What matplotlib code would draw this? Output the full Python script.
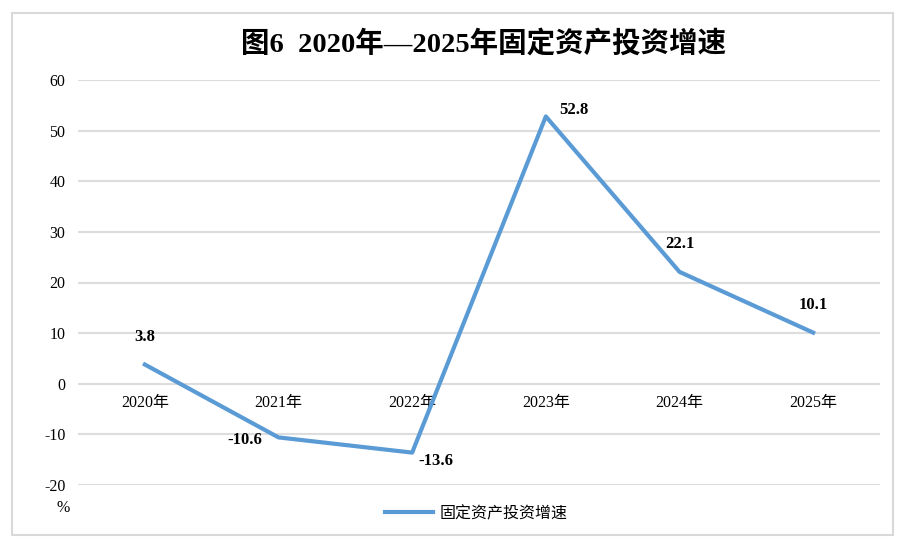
import matplotlib
matplotlib.use("Agg")
import matplotlib.pyplot as plt
from matplotlib.patches import Rectangle
from matplotlib.lines import Line2D

years = ["2020年", "2021年", "2022年", "2023年", "2024年", "2025年"]
growth = [3.8, -10.6, -13.6, 52.8, 22.1, 10.1]
yticks = [-20, -10, 0, 10, 20, 30, 40, 50, 60]
title = "图6  2020年—2025年固定资产投资增速"
series_name = "固定资产投资增速"

FAM = ["Liberation Serif", "Noto Sans CJK SC", "DejaVu Sans"]
plt.rcParams['font.family'] = FAM

W, H = 905, 544
fig = plt.figure(figsize=(W / 100, H / 100), dpi=100)
fig.patch.set_facecolor("white")
fig.patches.append(Rectangle((12 / W, 1 - 535 / H), (893 - 12) / W, (535 - 13) / H,
                             transform=fig.transFigure, fill=False,
                             edgecolor="#D9D9D9", linewidth=1.5))

ax = fig.add_axes([78 / W, 1 - 485 / H, (880 - 78) / W, (485 - 80) / H])
ax.set_xlim(-0.5, len(years) - 0.5)
ax.set_ylim(-20, 60)
ax.set_yticks(yticks)
ax.set_yticklabels([str(v) for v in yticks], fontsize=11.5)
for s in ax.spines.values():
    s.set_visible(False)
ax.tick_params(axis="both", length=0)
ax.tick_params(axis="y", pad=9)
for v in yticks:
    ax.axhline(v, color="#DDDDDD", linewidth=1.5, zorder=0)
ax.set_xticks([])

x = list(range(len(years)))
for i, lab in enumerate(years):
    ax.annotate(lab, (i, 0), xytext=(0, -14), textcoords="offset points",
                ha="center", va="center", fontsize=11.5)

ax.plot(x, growth, color="#5B9BD5", linewidth=3.0, solid_joinstyle="round", zorder=3)

offsets = [(0, 20), (-24, -2), (17, -6), (20, 5), (0, 20), (0, 20)]
for i, (v, off) in enumerate(zip(growth, offsets)):
    ax.annotate(f"{v}", (i, v), xytext=off, textcoords="offset points",
                ha="center", va="center", fontsize=12, fontweight="bold")

fig.text(484 / W, 1 - 44 / H, title, ha="center", va="center",
         fontsize=20.5, fontweight="bold")
fig.text(63 / W, 1 - 508 / H, "%", ha="center", va="center", fontsize=11.5)

fig.legend(handles=[Line2D([0], [0], color="#5B9BD5", linewidth=3.0)],
           labels=[series_name], loc="center", bbox_to_anchor=(476 / W, 1 - 514 / H),
           frameon=False, fontsize=11.5, handlelength=3.0, handletextpad=0.4)

fig.savefig("out.png", dpi=100, facecolor="white")
